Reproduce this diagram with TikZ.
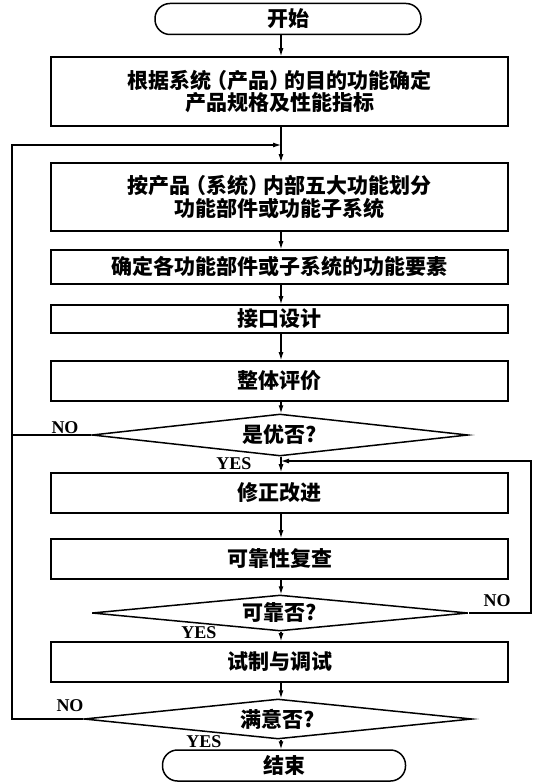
\documentclass[tikz,border=0pt]{standalone}
\usepackage{fontspec}
\newfontfamily\cjk{Noto Sans CJK SC}
\newfontfamily\lat{Liberation Serif}
\usetikzlibrary{shapes.geometric,arrows.meta}
\tikzset{
  cjkfont/.style={font=\cjk\bfseries\fontsize{21}{22.5}\selectfont},
  box/.style={draw, line width=1.7pt, minimum width=457pt, align=center, inner sep=0pt, cjkfont},
  term/.style={draw, line width=1.5pt, rounded corners=15pt, inner sep=0pt, cjkfont},
  dia/.style={draw, diamond, aspect=9, line width=1.5pt, inner sep=0pt, cjkfont},
  lbl/.style={font=\lat\bfseries\fontsize{18}{18}\selectfont, inner sep=0pt},
  conn/.style={line width=1.1pt},
  arr/.style={line width=1.1pt, -{Latex[length=8pt,width=5pt]}}
}
\begin{document}
\begin{tikzpicture}[x=1pt,y=-1pt]
\useasboundingbox (0,0) rectangle (533,783);
\coordinate (ax) at (281,0);
\coordinate (lt) at (12,145);
\coordinate (jn) at (281,145);
\coordinate (rt) at (531,461);

\node[term, minimum width=266pt, minimum height=31pt] (start) at (288,19) {开始};
\node[box, minimum height=69pt] (b1) at (279.5,91.5) {根据系统\kern-0.25em（产品）\kern-0.25em 的目的功能确定\\产品规格及性能指标};
\node[box, minimum height=68pt] (b2) at (279.5,197) {按产品\kern-0.25em（系统）\kern-0.25em 内部五大功能划分\\功能部件或功能子系统};
\node[box, minimum height=34pt] (b3) at (279.5,267) {确定各功能部件或子系统的功能要素};
\node[box, minimum height=28pt] (b4) at (279.5,319) {接口设计};
\node[box, minimum height=40pt] (b5) at (279.5,381) {整体评价};
\node[dia, minimum width=376pt, minimum height=42pt] (d1) at (280,435) {是优否?};
\node[box, minimum height=40pt] (b6) at (279.5,493) {修正改进};
\node[box, minimum height=40pt] (b7) at (279.5,559) {可靠性复查};
\node[dia, minimum width=376pt, minimum height=36pt] (d2) at (280,613) {可靠否?};
\node[box, minimum height=40pt] (b8) at (279.5,662) {试制与调试};
\node[dia, minimum width=388pt, minimum height=40pt] (d3) at (278,719) {满意否?};
\node[term, minimum width=243pt, minimum height=31pt] (end) at (284,765.5) {结束};

\draw[arr] (start.south -| ax) -- (b1.north -| ax);
\draw[arr] (b1.south -| ax) -- (b2.north -| ax);
\draw[arr] (b2.south -| ax) -- (b3.north -| ax);
\draw[arr] (b3.south -| ax) -- (b4.north -| ax);
\draw[arr] (b4.south -| ax) -- (b5.north -| ax);
\draw[arr] (b5.south -| ax) -- (d1.north -| ax);
\draw[arr] (d1.south -| ax) -- (b6.north -| ax);
\draw[arr] (b6.south -| ax) -- (b7.north -| ax);
\draw[arr] (b7.south -| ax) -- (d2.north -| ax);
\draw[arr] (d2.south -| ax) -- (b8.north -| ax);
\draw[arr] (b8.south -| ax) -- (d3.north -| ax);
\draw[arr] (d3.south -| ax) -- (end.north -| ax);

\draw[arr] (d1.west) -- (d1.west -| lt) -- (lt) -- (jn);
\draw[conn] (d3.west) -- (d3.west -| lt) -- (lt);
\draw[arr] (d2.east) -- (d2.east -| rt) -- (rt) -- (rt -| ax);

\node[lbl] (no1) at (65,428) {NO};
\node[lbl] (yes1) at (234,464) {YES};
\node[lbl] (no2) at (497,601) {NO};
\node[lbl] (yes2) at (199,633) {YES};
\node[lbl] (no3) at (70,706) {NO};
\node[lbl] (yes3) at (204,742) {YES};
\end{tikzpicture}
\end{document}
